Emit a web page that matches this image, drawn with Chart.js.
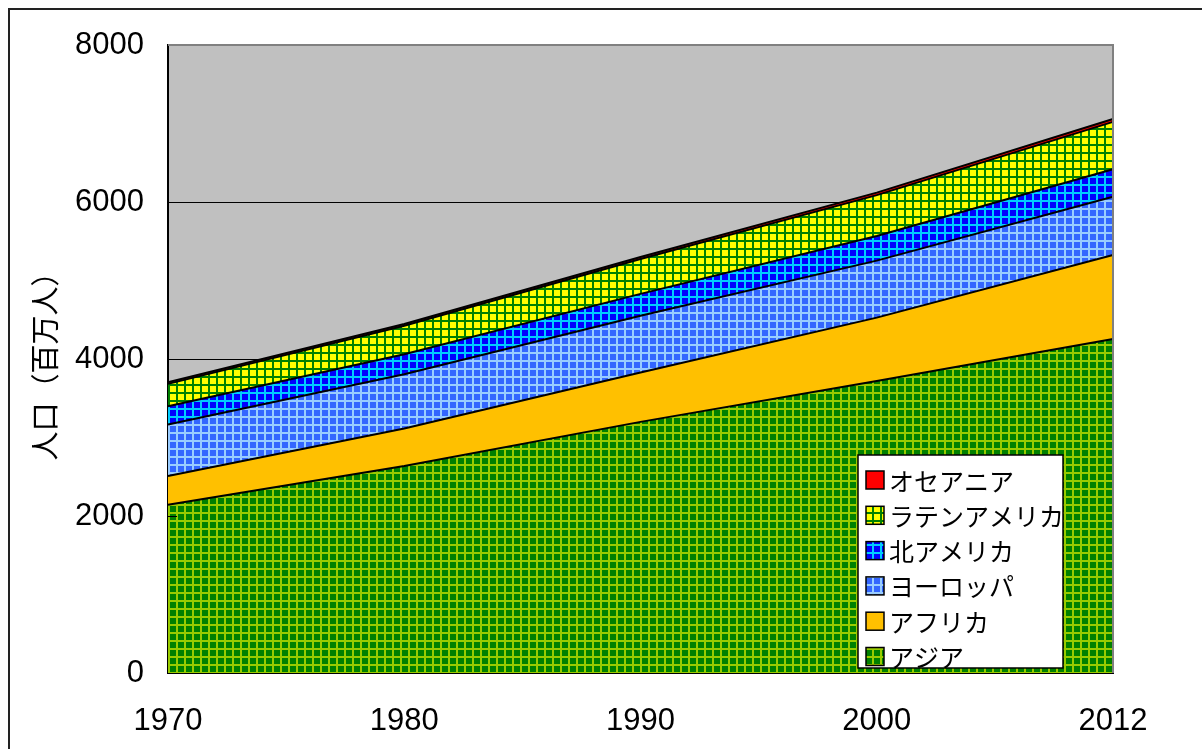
<!DOCTYPE html>
<html lang="ja">
<head>
<meta charset="utf-8">
<script src="https://cdn.jsdelivr.net/npm/chart.js@4/dist/chart.umd.min.js"></script>
<style>
  html, body { margin: 0; padding: 0; background: #fff; }
</style>
</head>
<body>
<canvas id="grafico" width="1202" height="749"></canvas>
<script>
// dados (milhões de pessoas)
const anos = ['1970', '1980', '1990', '2000', '2012'];
const asia = [2142, 2636, 3199, 3719, 4254];
const africa = [368, 478, 630, 808, 1072];
const europa = [656, 693, 721, 726, 740];
const americaNorte = [231, 254, 280, 313, 351];
const americaLatina = [286, 362, 443, 522, 604];
const oceania = [20, 23, 27, 31, 37];
const nomes = ['アジア', 'アフリカ', 'ヨーロッパ', '北アメリカ', 'ラテンアメリカ', 'オセアニア'];
const tituloY = '人口（百万人）';

const fonte = '"Noto Sans CJK JP", "Noto Sans", sans-serif';
const fonteNum = '"Liberation Sans", Arial, sans-serif';

// padrão de grade estilo Excel
function grade(fundo, linha) {
    const c = document.createElement('canvas');
    c.width = 8;
    c.height = 8;
    const g = c.getContext('2d');
    g.fillStyle = fundo;
    g.fillRect(0, 0, 8, 8);
    g.fillStyle = linha;
    g.fillRect(0, 0, 8, 2);
    g.fillRect(0, 0, 2, 8);
    return g.createPattern(c, 'repeat');
}

const ctx = document.getElementById('grafico').getContext('2d');

const cores = [
    grade('#008000', '#99cc00'),
    '#ffc000',
    grade('#3366ff', '#99ccff'),
    grade('#0000ff', '#00ccff'),
    grade('#ffff00', '#008000'),
    '#ff0000'
];
const series = [asia, africa, europa, americaNorte, americaLatina, oceania];

const fundoPlot = {
    id: 'fundoPlot',
    beforeDraw(chart) {
        const { ctx, chartArea: a } = chart;
        ctx.save();
        ctx.fillStyle = '#fff';
        ctx.fillRect(0, 0, chart.width, chart.height);
        // moldura externa
        ctx.strokeStyle = '#222';
        ctx.lineWidth = 2;
        ctx.beginPath();
        ctx.moveTo(9, chart.height + 5);
        ctx.lineTo(9, 9);
        ctx.lineTo(chart.width + 5, 9);
        ctx.stroke();
        ctx.fillStyle = '#c0c0c0';
        ctx.fillRect(a.left, a.top, a.right - a.left, a.bottom - a.top);
        ctx.restore();
    },
    afterDatasetsDraw(chart) {
        const { ctx, chartArea: a, scales } = chart;
        ctx.save();
        ctx.strokeStyle = '#808080';
        ctx.lineWidth = 2;
        ctx.beginPath();
        ctx.moveTo(a.left, a.top);
        ctx.lineTo(a.right, a.top);
        ctx.lineTo(a.right, a.bottom);
        ctx.stroke();
        // marcas internas do eixo Y
        ctx.strokeStyle = '#000';
        ctx.lineWidth = 1;
        [2000, 4000, 6000].forEach(v => {
            const y = Math.round(scales.y.getPixelForValue(v)) + 0.5;
            ctx.beginPath();
            ctx.moveTo(a.left, y);
            ctx.lineTo(a.left + 9, y);
            ctx.stroke();
        });
        ctx.restore();
    }
};

const legendaInterna = {
    id: 'legendaInterna',
    afterDraw(chart) {
        const { ctx, chartArea: a } = chart;
        const x = a.right - 255, y = a.bottom - 218, w = 205, h = 213;
        ctx.save();
        ctx.fillStyle = '#fff';
        ctx.fillRect(x, y, w, h);
        ctx.strokeStyle = '#000';
        ctx.lineWidth = 1.5;
        ctx.strokeRect(x, y, w, h);
        ctx.font = '25px ' + fonte;
        ctx.textBaseline = 'middle';
        const ds = chart.data.datasets.slice().reverse();
        ds.forEach((d, i) => {
            const cy = y + 25 + i * 35.3;
            ctx.fillStyle = d.backgroundColor;
            ctx.fillRect(x + 8, cy - 9, 18, 18);
            ctx.strokeRect(x + 8, cy - 9, 18, 18);
            ctx.fillStyle = '#000';
            ctx.fillText(d.label, x + 31, cy + 1);
        });
        ctx.restore();
    }
};

new Chart(ctx, {
    type: 'line',
    data: {
        labels: anos,
        datasets: series.map((s, i) => ({
            label: nomes[i],
            data: s,
            backgroundColor: cores[i],
            borderColor: '#000',
            borderWidth: 2,
            pointRadius: 0,
            tension: 0,
            fill: i === 0 ? 'origin' : '-1'
        }))
    },
    options: {
        responsive: false,
        animation: false,
        layout: { padding: { top: 45, right: 89, left: 0, bottom: 0 } },
        plugins: {
            legend: { display: false },
            tooltip: { enabled: false }
        },
        scales: {
            x: {
                type: 'category',
                offset: false,
                grid: { display: false, drawTicks: false },
                border: { color: '#000', width: 2 },
                ticks: {
                    color: '#000',
                    font: { family: fonteNum, size: 31 },
                    padding: 30,
                    maxRotation: 0,
                    autoSkip: false
                },
                afterFit(scale) { scale.height = 76; }
            },
            y: {
                stacked: true,
                min: 0,
                max: 8000,
                ticks: {
                    stepSize: 2000,
                    color: '#000',
                    font: { family: fonteNum, size: 31 },
                    padding: 24,
                    callback: v => String(v)
                },
                grid: {
                    drawTicks: false,
                    color: c => (c.tick.value > 0 && c.tick.value < 8000) ? '#000' : 'rgba(0,0,0,0)',
                    lineWidth: 1
                },
                border: { color: '#000', width: 2 },
                title: {
                    display: true,
                    text: tituloY,
                    color: '#000',
                    font: { family: fonte, size: 29 },
                    padding: { top: 28, bottom: 0 }
                },
                afterFit(scale) { scale.width = 168; }
            }
        }
    },
    plugins: [fundoPlot, legendaInterna]
});
</script>
</body>
</html>
